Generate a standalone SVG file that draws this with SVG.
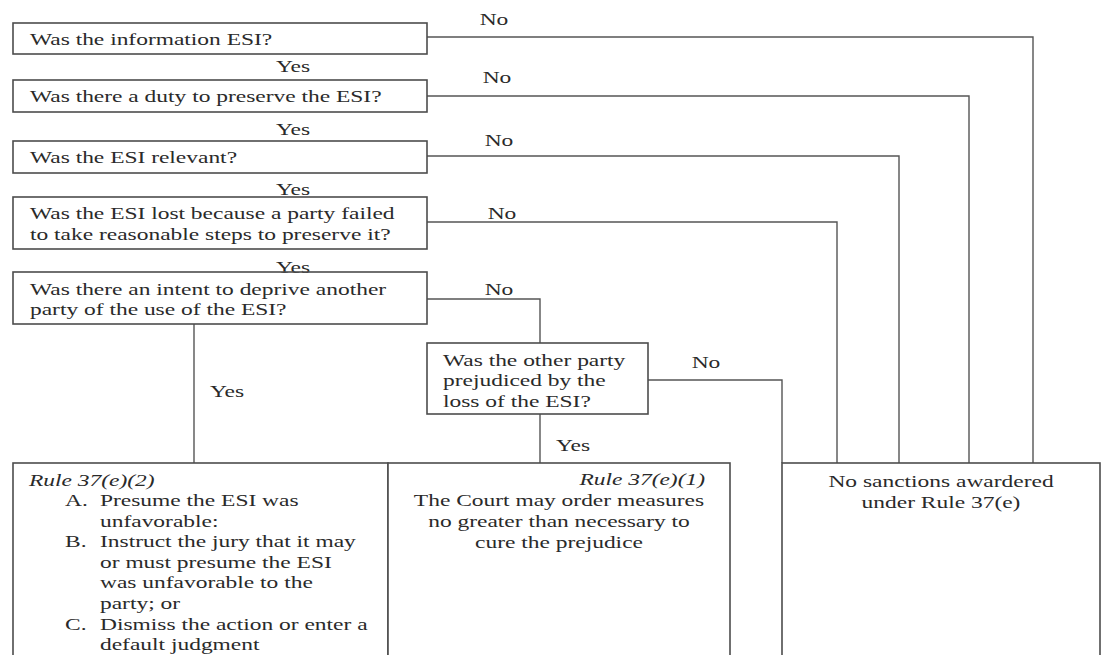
<svg xmlns="http://www.w3.org/2000/svg" width="1106" height="655" viewBox="0 0 1106 655">
<style>
.box{fill:#fff;stroke:#4d4d4d;stroke-width:1.6}
.ln{fill:none;stroke:#555;stroke-width:1.4}
.t{font-family:"Liberation Serif","Times New Roman",serif;font-size:17px;fill:#2a2a2a}
.i{font-style:italic}
.m{text-anchor:middle}
.e{text-anchor:end}
</style>
<rect width="1106" height="655" fill="#fff"/>
<g id="connectors">
<path class="ln" d="M427,37 H1033 V463"/>
<path class="ln" d="M427,96 H969 V463"/>
<path class="ln" d="M427,156 H899 V463"/>
<path class="ln" d="M427,222 H837 V463"/>
<path class="ln" d="M427,299 H540 V343"/>
<path class="ln" d="M648,380 H782 V463"/>
<path class="ln" d="M194,324 V463"/>
<path class="ln" d="M540,414 V463"/>
<text class="t m" transform="translate(494 25) scale(1.38 1)">No</text>
<text class="t m" transform="translate(497 83) scale(1.38 1)">No</text>
<text class="t m" transform="translate(499 146) scale(1.38 1)">No</text>
<text class="t m" transform="translate(502 219) scale(1.38 1)">No</text>
<text class="t m" transform="translate(499 295) scale(1.38 1)">No</text>
<text class="t m" transform="translate(706 368) scale(1.38 1)">No</text>
<text class="t m" transform="translate(293 72) scale(1.38 1)">Yes</text>
<text class="t m" transform="translate(293 135) scale(1.38 1)">Yes</text>
<text class="t m" transform="translate(293 195) scale(1.38 1)">Yes</text>
<text class="t m" transform="translate(227 397) scale(1.38 1)">Yes</text>
<text class="t m" transform="translate(573 451) scale(1.38 1)">Yes</text>
</g>
<g id="q1">
<rect class="box" x="13" y="23" width="414" height="31"/>
<text class="t" transform="translate(30 45) scale(1.38 1)">Was the information ESI?</text>
</g>
<g id="q2">
<rect class="box" x="13" y="80" width="414" height="32"/>
<text class="t" transform="translate(30 102) scale(1.38 1)">Was there a duty to preserve the ESI?</text>
</g>
<g id="q3">
<rect class="box" x="13" y="141" width="414" height="32"/>
<text class="t" transform="translate(30 163) scale(1.38 1)">Was the ESI relevant?</text>
</g>
<g id="q4">
<rect class="box" x="13" y="197" width="414" height="52"/>
<text class="t" transform="translate(30 219) scale(1.38 1)"><tspan x="0" y="0">Was the ESI lost because a party failed</tspan><tspan x="0" y="21">to take reasonable steps to preserve it?</tspan></text>
</g>
<text class="t m" transform="translate(293 273) scale(1.38 1)">Yes</text>
<g id="q5">
<rect class="box" x="13" y="272" width="414" height="52" fill="none" style="fill:none"/>
<text class="t" transform="translate(30 295) scale(1.38 1)"><tspan x="0" y="0">Was there an intent to deprive another</tspan><tspan x="0" y="20">party of the use of the ESI?</tspan></text>
</g>
<g id="q6">
<rect class="box" x="427" y="343" width="221" height="71"/>
<text class="t" transform="translate(443 366) scale(1.38 1)"><tspan x="0" y="0">Was the other party</tspan><tspan x="0" y="20.5">prejudiced by the</tspan><tspan x="0" y="41">loss of the ESI?</tspan></text>
</g>
<g id="r2">
<rect class="box" x="13" y="463" width="375" height="260"/>
<text class="t i" transform="translate(29 486) scale(1.38 1)">Rule 37(e)(2)</text>
<text class="t" transform="translate(65 506) scale(1.38 1)"><tspan x="0" y="0">A.</tspan><tspan x="0" y="41.2">B.</tspan><tspan x="0" y="123.6">C.</tspan></text>
<text class="t" transform="translate(100 506) scale(1.38 1)"><tspan x="0" y="0">Presume the ESI was</tspan><tspan x="0" y="20.6">unfavorable:</tspan><tspan x="0" y="41.2">Instruct the jury that it may</tspan><tspan x="0" y="61.8">or must presume the ESI</tspan><tspan x="0" y="82.4">was unfavorable to the</tspan><tspan x="0" y="103">party; or</tspan><tspan x="0" y="123.6">Dismiss the action or enter a</tspan><tspan x="0" y="144.2">default judgment</tspan></text>
</g>
<g id="r1">
<rect class="box" x="388" y="463" width="342" height="260"/>
<text class="t i e" transform="translate(705 485) scale(1.38 1)">Rule 37(e)(1)</text>
<text class="t m" transform="translate(559 506) scale(1.38 1)"><tspan x="0" y="0">The Court may order measures</tspan><tspan x="0" y="21">no greater than necessary to</tspan><tspan x="0" y="42">cure the prejudice</tspan></text>
</g>
<g id="none">
<rect class="box" x="782" y="463" width="318" height="260"/>
<text class="t m" transform="translate(941 487) scale(1.38 1)"><tspan x="0" y="0">No sanctions awardered</tspan><tspan x="0" y="21">under Rule 37(e)</tspan></text>
</g>
</svg>
